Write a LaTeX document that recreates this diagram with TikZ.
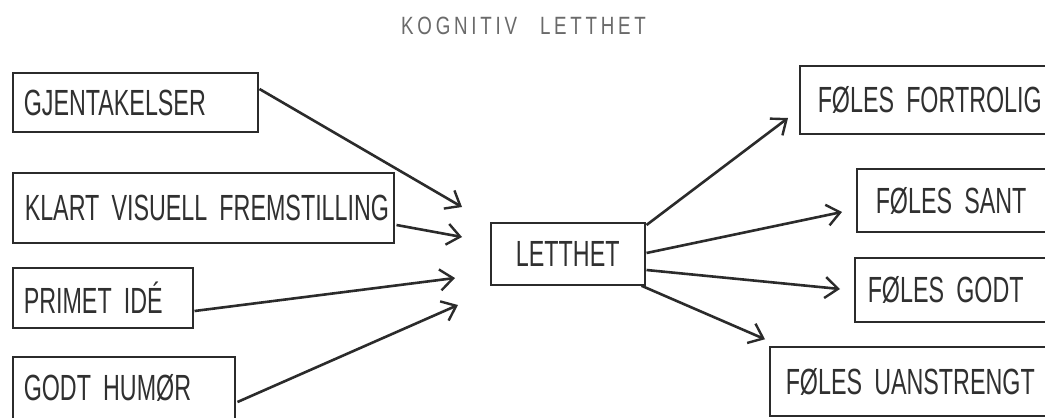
\documentclass[tikz,border=0pt]{standalone}
\usepackage{fontspec}
\usetikzlibrary{arrows.meta,calc}
\setmainfont{Liberation Sans}
\newfontfamily\condfont[FakeStretch=0.64]{Liberation Sans}
\newfontfamily\headfont[FakeStretch=0.75,LetterSpace=15]{Liberation Sans}
\newcommand\boxfont{\condfont\fontsize{36.4}{42}\selectfont
  \fontdimen2\font=8pt \fontdimen3\font=0pt \fontdimen4\font=0pt }
\definecolor{ink}{HTML}{2B2B2B}
\definecolor{txt}{HTML}{303030}
\definecolor{head}{HTML}{6A6A6A}
\tikzset{
  box/.style={draw=ink, line width=1.5pt, inner ysep=0pt, anchor=west,
    text=txt, align=left, font=\boxfont},
  link/.style={draw=ink, line width=2.6pt,
    -{Straight Barb[length=13pt,width=21pt,line width=2.4pt]}},
}
\begin{document}
\begin{tikzpicture}[x=1pt,y=-1pt]
\useasboundingbox (0,0) rectangle (1045,418);
\fill[white] (0,0) rectangle (1045,418);

% heading
\node[text=head, font=\headfont\fontsize{25}{29}\selectfont, inner sep=0pt, anchor=west]
  (title) at (401,26) {KOGNITIV\hspace{23pt}LETTHET};

% causes
\node[box, inner xsep=11pt, text width=223pt, minimum height=59pt] (g) at (12,102.5) {GJENTAKELSER};
\node[box, inner xsep=12pt, text width=357pt, minimum height=70pt] (k) at (12,208) {\mbox{KLART VISUELL FREMSTILLING}};
\node[box, inner xsep=11pt, text width=158pt, minimum height=60pt] (p) at (12,298) {PRIMET IDÉ};
\node[box, inner xsep=11pt, text width=200pt, minimum height=62pt] (h) at (12,388) {GODT HUMØR};

% centre
\node[box, align=center, inner xsep=0pt, text width=154pt, minimum height=62pt] (l) at (490,254) {LETTHET};

% effects
\node[box, inner xsep=18pt, text width=240pt, minimum height=68pt] (ff) at (799,100) {\mbox{FØLES FORTROLIG}};
\node[box, inner xsep=19pt, text width=180pt, minimum height=63pt] (s) at (856,200.5) {FØLES SANT};
\node[box, inner xsep=13pt, text width=165pt, minimum height=64pt] (gd) at (854,290) {FØLES GODT};
\node[box, inner xsep=16pt, text width=270pt, minimum height=69pt] (u) at (769,381.5) {\mbox{FØLES UANSTRENGT}};

% connectors into the centre
\draw[link] ($(g.east)+(1,-13.5)$) -- ($(l.west)+(-28,-47)$);
\draw[link] ($(k.east)+(2,17)$) -- ($(l.west)+(-28,-17)$);
\draw[link] ($(p.east)+(1,13)$) -- ($(l.west)+(-35,24)$);
\draw[link] ($(h.east)+(2,14)$) -- ($(l.west)+(-32,51)$);

% connectors out of the centre
\draw[link] ($(l.east)+(1,-29)$) -- ($(ff.west)+(-11,18)$);
\draw[link] ($(l.east)+(1,-1)$) -- ($(s.west)+(-14,11.5)$);
\draw[link] ($(l.east)+(1,16)$) -- ($(gd.west)+(-14,-1)$);
\draw[link] ($(l.south east)+(-4,0)$) -- ($(u.north west)+(-4,-7)$);
\end{tikzpicture}
\end{document}
